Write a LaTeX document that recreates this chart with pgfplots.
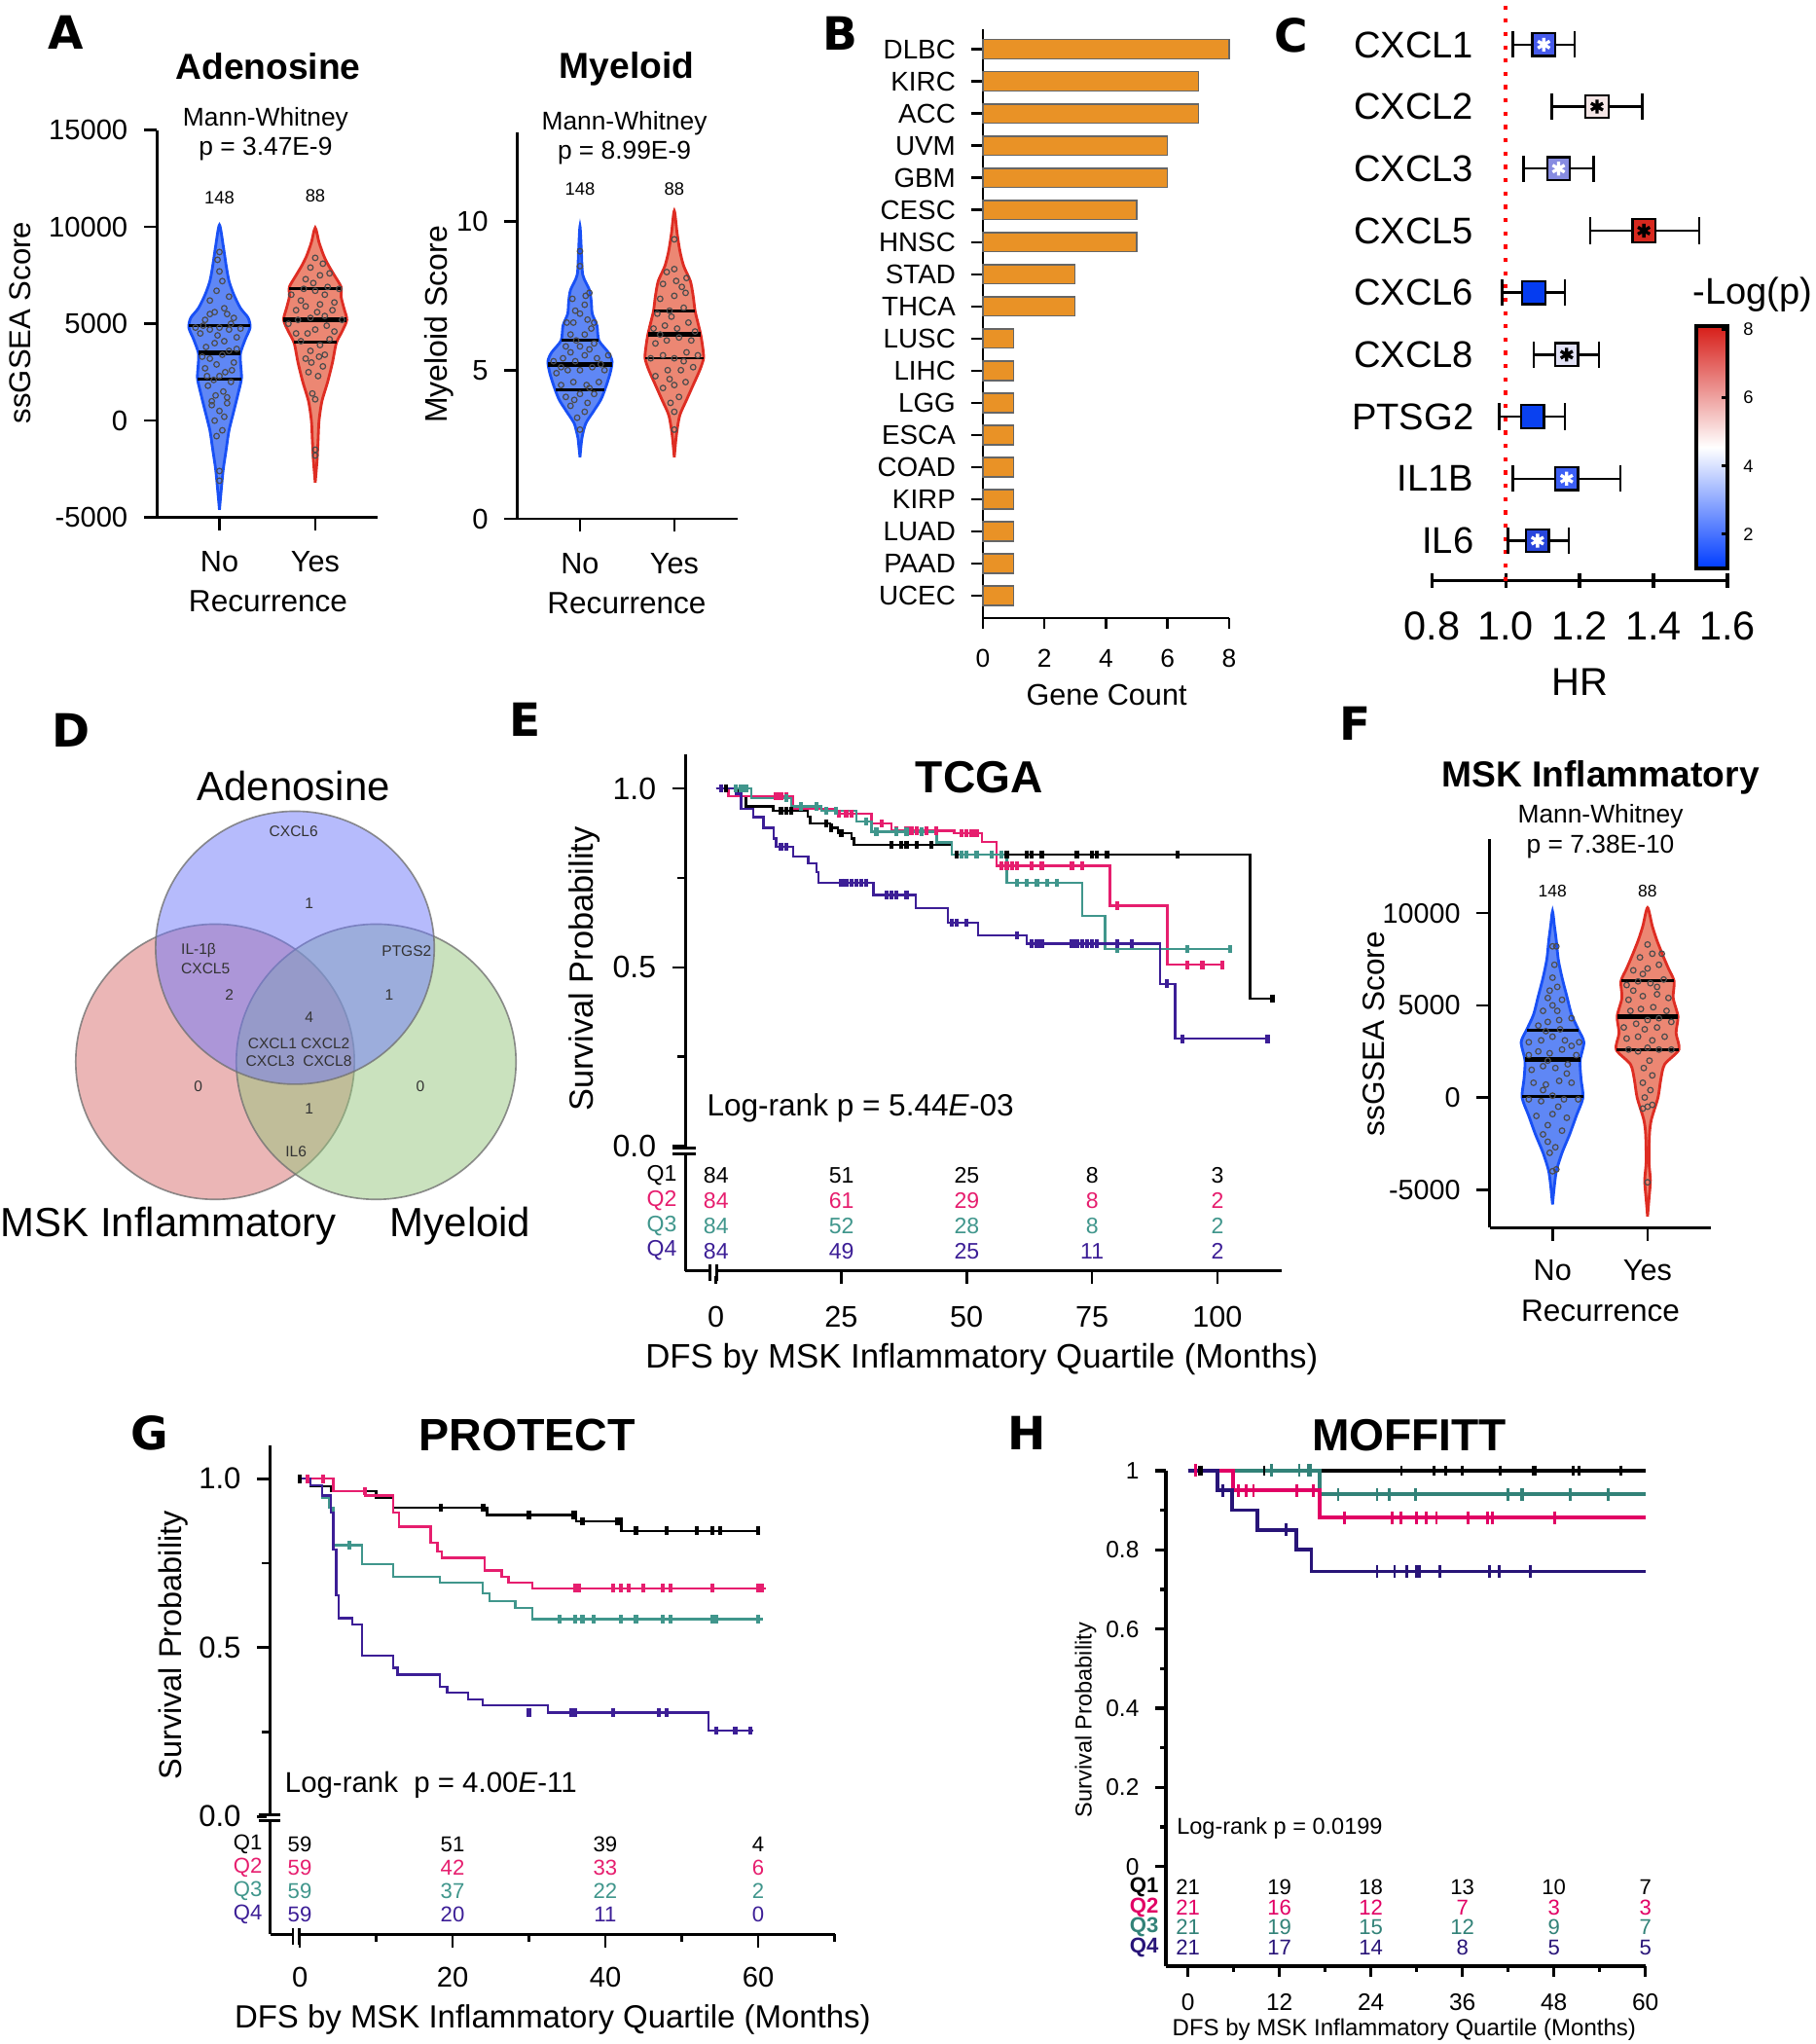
\documentclass[border=0pt]{standalone}
\usepackage{fontspec}
\setmainfont{Liberation Sans}
\newfontfamily\lf{DejaVu Sans}
\usepackage{pgfplots}
\pgfplotsset{compat=1.18}

\definecolor{vbf}{RGB}{95,135,245}
\definecolor{vbe}{RGB}{25,80,245}
\definecolor{vrf}{RGB}{236,135,115}
\definecolor{vre}{RGB}{222,45,35}
\definecolor{bor}{RGB}{233,146,38}
\definecolor{qb}{RGB}{230,30,110}
\definecolor{qc}{RGB}{64,150,140}
\definecolor{qd}{RGB}{60,30,150}
\definecolor{hb}{RGB}{225,0,100}
\definecolor{hc}{RGB}{50,130,120}
\definecolor{hd}{RGB}{40,20,120}
\definecolor{vpink}{RGB}{215,110,110}
\definecolor{vgreen}{RGB}{150,198,125}
\definecolor{vblue}{RGB}{110,120,250}
\definecolor{cbblue}{RGB}{0,60,255}
\definecolor{cbred}{RGB}{215,30,25}
\definecolor{c1}{RGB}{70,90,235}
\definecolor{c2}{RGB}{245,230,230}
\definecolor{c3}{RGB}{135,140,225}
\definecolor{c5}{RGB}{215,40,30}
\definecolor{c6}{RGB}{5,60,240}
\definecolor{c8}{RGB}{225,225,245}
\definecolor{cp}{RGB}{10,65,240}
\definecolor{cb}{RGB}{60,95,245}
\definecolor{ci}{RGB}{40,70,220}

\newcommand\fs[1]{\fontsize{#1}{#1}\selectfont}

\pgfplotsset{
  gp/.style={scale only axis, anchor=south west, clip=false,
    axis lines=left, axis line style={-, line width=0.55pt},
    tick align=outside, tick style={black, line width=0.55pt}, major tick length=1mm,
    scaled y ticks=false, scaled x ticks=false,
    /pgf/number format/assume math mode=true, /pgf/number format/1000 sep={}},
  violin/.style={smooth, tension=0.45, line width=0.6pt},
  dots/.style={only marks, mark=o, mark size=0.6pt, mark options={draw=black!70, line width=0.25pt}},
  qline/.style={line width=0.6pt, black},
  med/.style={line width=1.0pt, black},
  km/.style={const plot, line width=0.5pt, mark=none},
  cens/.style={only marks, mark=|, mark size=0.9pt, mark options={line width=0.9pt}},
}

\begin{document}
\begin{tikzpicture}
\useasboundingbox (0,0) rectangle (13.93,-15.68);

% ---------------- A: Adenosine
\begin{axis}[gp, at={(1.204cm,-3.97cm)}, width=1.692cm, height=2.973cm,
  xmin=0.347, xmax=2.65, ymin=-5000, ymax=15000,
  xtick={1,2}, xticklabels={No,Yes}, ytick={-5000,0,5000,10000,15000},
  yticklabel style={font=\fs{6.2}}, xticklabel style={font=\fs{6.5}}, xticklabel shift=0.37mm]
\addplot[violin, fill=vbf, draw=vbe] coordinates {
 (1,-4600) (1.02,-3500) (1.04,-2500) (1.07,-1500) (1.1,-500) (1.15,500) (1.2,1500)
 (1.23,2200) (1.22,3000) (1.22,3500) (1.27,4200) (1.32,4800) (1.3,5300) (1.22,5800)
 (1.15,6500) (1.1,7200) (1.07,8000) (1.04,9000) (1,10100)
 (0.96,9000) (0.93,8000) (0.9,7200) (0.85,6500) (0.78,5800) (0.7,5300) (0.68,4800)
 (0.73,4200) (0.78,3500) (0.78,3000) (0.77,2200) (0.8,1500) (0.85,500) (0.9,-500)
 (0.93,-1500) (0.96,-2500) (0.98,-3500)} -- cycle;
\addplot[violin, fill=vrf, draw=vre] coordinates {
 (2,-3200) (2.02,-2000) (2.03,-1000) (2.04,0) (2.07,1000) (2.13,2000) (2.18,3000)
 (2.22,4000) (2.28,4600) (2.33,5200) (2.3,5800) (2.27,6400) (2.27,6900) (2.2,7500)
 (2.14,8000) (2.09,8500) (2.04,9200) (2,9950)
 (1.96,9200) (1.91,8500) (1.86,8000) (1.8,7500) (1.73,6900) (1.73,6400) (1.7,5800)
 (1.67,5200) (1.72,4600) (1.78,4000) (1.82,3000) (1.87,2000) (1.93,1000) (1.96,0)
 (1.97,-1000) (1.98,-2000)} -- cycle;
\addplot[dots] coordinates {
 (1,-3100) (1,-2600) (0.97,-800) (1.03,-500) (0.95,0) (1.05,200) (1,500) (0.92,800)
 (1.08,900) (0.96,1300) (1.04,1500) (0.88,1800) (1.12,2000) (0.94,2100) (1.0,2300)
 (1.06,2500) (0.85,2700) (0.97,2900) (1.15,3000) (0.9,3200) (1.03,3400) (1.1,3600)
 (0.86,3800) (0.95,4000) (1.05,4100) (1.18,4300) (0.8,4500) (0.9,4700) (1.0,4800)
 (1.1,4700) (1.22,4750) (0.75,4800) (0.85,5200) (1.15,5300) (0.95,5600) (1.05,5800)
 (0.9,6200) (1.1,6400) (0.97,6700) (1.03,7200) (1.0,7700) (0.98,8300) (1.0,8700)
 (0.92,1000) (1.08,1200) (0.87,2300) (1.13,2600) (0.82,3300) (1.18,3700) (0.98,4400)
 (1.12,5000) (0.83,4900) (1.08,5500) (0.9,5500)
 (2,-1800) (2,-1500) (2,1100) (1.97,1400) (2.03,2300) (1.93,2500) (2.08,2800)
 (1.9,3200) (2.1,3400) (1.95,3600) (2.05,3900) (1.85,4100) (2.15,4200) (1.92,4500)
 (2.0,4700) (2.12,4900) (1.72,5000) (1.82,5200) (1.95,5300) (2.1,5400) (2.28,5200)
 (1.8,5700) (1.9,5900) (2.05,6000) (2.2,6100) (1.75,6500) (1.88,6800) (2.0,6700)
 (2.13,6900) (2.25,6800) (1.9,7300) (2.05,7500) (2.15,7600) (1.95,7900) (2.08,8100)
 (2.0,8400) (1.96,3000) (2.04,3300) (1.8,4500) (2.2,4600) (2.02,5600) (2.18,5700)
 (1.85,6200) (2.1,6500) (1.98,7100)};
\addplot[qline] coordinates {(0.68,4900) (1.32,4900)};
\addplot[med] coordinates {(0.78,3500) (1.22,3500)};
\addplot[qline] coordinates {(0.77,2150) (1.23,2150)};
\addplot[qline] coordinates {(1.73,6800) (2.27,6800)};
\addplot[med] coordinates {(1.67,5200) (2.33,5200)};
\addplot[qline] coordinates {(1.78,4050) (2.22,4050)};
\end{axis}

% ---------------- A: Myeloid
\begin{axis}[gp, at={(3.97cm,-3.98cm)}, width=1.688cm, height=2.965cm,
  xmin=0.337, xmax=2.67, ymin=0, ymax=13,
  xtick={1,2}, xticklabels={No,Yes}, ytick={0,5,10},
  yticklabel style={font=\fs{6.2}}, xticklabel style={font=\fs{6.5}}, xticklabel shift=0.37mm]
\addplot[violin, fill=vbf, draw=vbe] coordinates {
 (1,2.07) (1.02,2.7) (1.06,3.2) (1.14,3.6) (1.22,4.0) (1.27,4.4) (1.32,4.9) (1.34,5.3)
 (1.3,5.6) (1.2,6.0) (1.18,6.5) (1.13,6.9) (1.12,7.3) (1.1,7.7) (1.03,8.2) (1.015,9.0) (1,9.84)
 (0.985,9.0) (0.97,8.2) (0.9,7.7) (0.88,7.3) (0.87,6.9) (0.82,6.5) (0.8,6.0) (0.7,5.6)
 (0.66,5.3) (0.68,4.9) (0.73,4.4) (0.78,4.0) (0.86,3.6) (0.94,3.2) (0.98,2.7)} -- cycle;
\addplot[violin, fill=vrf, draw=vre] coordinates {
 (2,2.07) (2.015,2.6) (2.03,3.0) (2.06,3.5) (2.13,4.0) (2.2,4.5) (2.27,5.0) (2.31,5.4)
 (2.3,5.8) (2.28,6.2) (2.25,6.6) (2.22,7.0) (2.2,7.5) (2.17,8.0) (2.1,8.5) (2.06,9.0)
 (2.03,9.6) (2,10.36)
 (1.97,9.6) (1.94,9.0) (1.9,8.5) (1.83,8.0) (1.8,7.5) (1.78,7.0) (1.75,6.6) (1.72,6.2)
 (1.7,5.8) (1.69,5.4) (1.73,5.0) (1.8,4.5) (1.87,4.0) (1.94,3.5) (1.97,3.0) (1.985,2.6)} -- cycle;
\addplot[dots] coordinates {
 (1,3.0) (0.97,3.4) (1.05,3.6) (0.9,3.8) (1.08,3.9) (0.85,4.1) (1,4.2) (1.15,4.2)
 (0.8,4.5) (0.93,4.6) (1.07,4.5) (1.2,4.6) (0.75,4.9) (0.87,5.0) (1.0,5.0) (1.13,5.1)
 (1.26,5.0) (0.72,5.3) (0.82,5.4) (0.95,5.3) (1.05,5.5) (1.18,5.4) (1.3,5.5) (0.85,5.8)
 (1.0,5.8) (1.15,5.9) (0.9,6.2) (1.05,6.2) (1.12,6.4) (0.86,6.6) (0.93,6.6) (1.08,6.7)
 (1.15,6.6) (0.95,7.0) (1.05,7.2) (0.92,7.4) (1.06,7.5) (1.1,7.6) (1,8.5) (1,9.0)
 (0.94,4.0) (1.1,4.4) (0.9,5.6) (1.22,5.2) (0.96,6.0) (1.0,6.9) (0.8,5.1) (1.1,5.7)
 (2,3.0) (2,3.6) (1.96,3.9) (2.05,4.1) (1.88,4.4) (2.0,4.5) (2.12,4.6) (1.8,4.8)
 (1.93,5.0) (2.07,5.0) (2.2,5.1) (1.75,5.4) (1.88,5.5) (2.0,5.4) (2.13,5.6) (2.25,5.5)
 (1.8,5.9) (1.92,6.0) (2.05,6.1) (2.18,6.0) (1.78,6.4) (1.9,6.5) (2.03,6.4) (2.15,6.6)
 (1.82,6.9) (1.95,7.0) (2.1,7.1) (1.85,7.4) (2.0,7.5) (2.12,7.6) (1.88,7.9) (2.02,8.0)
 (2.13,8.1) (2.0,8.4) (2.0,9.4) (1.95,4.7) (2.1,5.3) (1.85,6.2) (2.22,6.3) (1.97,6.8)
 (2.08,7.8) (1.92,8.3)};
\addplot[qline] coordinates {(0.8,6.0) (1.2,6.0)};
\addplot[med] coordinates {(0.66,5.2) (1.34,5.2)};
\addplot[qline] coordinates {(0.74,4.35) (1.26,4.35)};
\addplot[qline] coordinates {(1.78,7.0) (2.22,7.0)};
\addplot[med] coordinates {(1.72,6.2) (2.28,6.2)};
\addplot[qline] coordinates {(1.69,5.4) (2.31,5.4)};
\end{axis}

% ---------------- B: bars
\begin{axis}[gp, xbar, at={(7.54cm,-4.74cm)}, width=1.89cm, height=4.517cm,
  xmin=0, xmax=8, ymin=-0.69, ymax=17.63, bar width=0.6,
  ytick={0,...,17}, yticklabels={UCEC,PAAD,LUAD,KIRP,COAD,ESCA,LGG,LIHC,LUSC,THCA,STAD,HNSC,CESC,GBM,UVM,ACC,KIRC,DLBC},
  xtick={0,2,4,6,8}, major tick length=0.85mm,
  yticklabel style={font=\fs{5.9}}, xticklabel style={font=\fs{5.6}}, xticklabel shift=0.35mm]
\addplot[fill=bor, draw=black!60, line width=0.3pt] coordinates {
 (1,0) (1,1) (1,2) (1,3) (1,4) (1,5) (1,6) (1,7) (1,8) (3,9) (3,10) (5,11) (5,12)
 (6,13) (6,14) (7,15) (7,16) (8,17)};
\end{axis}

% ---------------- C: forest
\begin{axis}[gp, at={(10.986cm,-4.456cm)}, width=2.266cm, height=4.456cm,
  xmin=0.8, xmax=1.6, ymin=-0.648, ymax=8.72,
  axis x line=bottom, axis y line=none, axis line style={-, line width=0.7pt},
  xtick={0.8,1.0,1.2,1.4,1.6}, major tick length=1.1mm, tick style={line width=0.7pt},
  xticklabel style={font=\fs{8.8}, /pgf/number format/.cd, fixed, fixed zerofill, precision=1},
  xticklabel shift=0.6mm]
\draw[red, dotted, line width=0.9pt] (axis cs:1,-0.648) -- (axis cs:1,8.72);
\addplot[draw=none, mark=none, error bars/.cd, x dir=both, x explicit, error mark=|,
  error bar style={line width=0.5pt, black}, error mark options={black, line width=0.5pt, mark size=2.9pt}]
 coordinates {
 (1.103,8) -= (0.084,0) += (0.083,0)
 (1.247,7) -= (0.122,0) += (0.123,0)
 (1.143,6) -= (0.095,0) += (0.095,0)
 (1.374,5) -= (0.146,0) += (0.150,0)
 (1.076,4) -= (0.086,0) += (0.084,0)
 (1.165,3) -= (0.089,0) += (0.087,0)
 (1.072,2) -= (0.090,0) += (0.088,0)
 (1.165,1) -= (0.146,0) += (0.146,0)
 (1.086,0) -= (0.080,0) += (0.085,0)};
\addplot[only marks, mark=square*, mark size=2.5pt, mark options={draw=black, line width=0.5pt, fill=c1}] coordinates {(1.103,8)};
\addplot[only marks, mark=square*, mark size=2.5pt, mark options={draw=black, line width=0.5pt, fill=c2}] coordinates {(1.247,7)};
\addplot[only marks, mark=square*, mark size=2.5pt, mark options={draw=black, line width=0.5pt, fill=c3}] coordinates {(1.143,6)};
\addplot[only marks, mark=square*, mark size=2.5pt, mark options={draw=black, line width=0.5pt, fill=c5}] coordinates {(1.374,5)};
\addplot[only marks, mark=square*, mark size=2.5pt, mark options={draw=black, line width=0.5pt, fill=c6}] coordinates {(1.076,4)};
\addplot[only marks, mark=square*, mark size=2.5pt, mark options={draw=black, line width=0.5pt, fill=c8}] coordinates {(1.165,3)};
\addplot[only marks, mark=square*, mark size=2.5pt, mark options={draw=black, line width=0.5pt, fill=cp}] coordinates {(1.072,2)};
\addplot[only marks, mark=square*, mark size=2.5pt, mark options={draw=black, line width=0.5pt, fill=cb}] coordinates {(1.165,1)};
\addplot[only marks, mark=square*, mark size=2.5pt, mark options={draw=black, line width=0.5pt, fill=ci}] coordinates {(1.086,0)};
\addplot[only marks, mark=asterisk, mark size=1.5pt, mark options={white, line width=0.7pt}] coordinates {(1.103,8) (1.143,6) (1.165,1) (1.086,0)};
\addplot[only marks, mark=asterisk, mark size=1.5pt, mark options={black, line width=0.7pt}] coordinates {(1.247,7) (1.374,5) (1.165,3)};
\end{axis}

% colour bar
\begin{axis}[scale only axis, anchor=south west, at={(13.015cm,-4.36cm)}, width=0.237cm, height=1.858cm,
  xmin=0, xmax=1, ymin=1, ymax=8.1, xtick=\empty, ytick={2,4,6,8},
  ytick pos=right, yticklabel pos=right, tick align=inside, major tick length=0.45mm,
  axis line style={line width=0.9pt}, tick style={line width=0.6pt, black}, axis on top,
  yticklabel style={font=\fs{3.9}}, /pgf/number format/assume math mode=true]
\addplot[draw=none, top color=cbred, bottom color=cbblue, middle color=white] coordinates {(0,1) (1,1) (1,8.1) (0,8.1)} -- cycle;
\end{axis}

% ---------------- D: Venn
\begin{axis}[scale only axis, anchor=south west, at={(0cm,-9.6cm)}, width=4.2cm, height=4.2cm,
  xmin=0, xmax=420, ymin=-960, ymax=-540, hide axis, clip=false]
\filldraw[fill=vpink, fill opacity=0.5, draw=black!55, draw opacity=0.8, line width=0.35pt] (axis cs:165,-814.5) ellipse [x radius=1.069cm, y radius=1.056cm];
\filldraw[fill=vgreen, fill opacity=0.5, draw=black!55, draw opacity=0.8, line width=0.35pt] (axis cs:288.6,-814.5) ellipse [x radius=1.073cm, y radius=1.056cm];
\filldraw[fill=vblue, fill opacity=0.5, draw=black!55, draw opacity=0.8, line width=0.35pt] (axis cs:226.3,-727) ellipse [x radius=1.069cm, y radius=1.047cm];
\end{axis}

% ---------------- E: TCGA
\begin{axis}[gp, at={(5.258cm,-9.748cm)}, width=4.578cm, height=3.965cm,
  xmin=-6.1, xmax=112.9, ymin=-0.3485, ymax=1.097,
  xtick={0,25,50,75,100}, ytick={0,0.5,1}, minor ytick={0.25,0.75}, minor tick length=0.6mm,
  yticklabel style={font=\fs{6.8}, /pgf/number format/.cd, fixed, fixed zerofill, precision=1},
  xticklabel style={font=\fs{6.5}}, xticklabel shift=0.5mm]
\addplot[km, black] coordinates {(0,1) (4.5,0.979) (6,0.95) (11.4,0.9375) (18.3,0.922) (18.8,0.902) (22.8,0.89) (24.3,0.875) (27,0.86) (27.5,0.843) (47,0.816) (106.5,0.413) (111,0.413)};
\addplot[km, qb] coordinates {(0,1) (2.5,0.979) (15.4,0.943) (24,0.93) (31,0.902) (35,0.882) (47.5,0.875) (53,0.85) (56,0.784) (78.6,0.672) (90,0.507) (101,0.507)};
\addplot[km, qc] coordinates {(0,1) (7,0.973) (15,0.95) (21,0.9375) (28,0.908) (31,0.879) (44,0.849) (47,0.816) (58,0.737) (73,0.643) (77.6,0.551) (102.5,0.551)};
\addplot[km, qd] coordinates {(0,1) (4,0.985) (5,0.943) (7.5,0.92) (9.5,0.89) (11.5,0.86) (12,0.837) (15.4,0.81) (18.4,0.79) (20,0.766) (20.4,0.737) (31.4,0.702) (39.8,0.666) (46.3,0.625) (52.3,0.59) (62,0.566) (88.6,0.454) (91.6,0.30) (110,0.30)};
\addplot[cens, black] coordinates {(1,1) (2,1) (13,0.9375) (14,0.9375) (15,0.9375) (22,0.902) (23,0.89) (25,0.875) (35,0.843) (37,0.843) (38,0.843) (40,0.843) (43,0.843) (48,0.816) (49,0.816) (50,0.816) (58,0.816) (62,0.816) (63,0.816) (65,0.816) (72,0.816) (75,0.816) (76,0.816) (78,0.816) (92,0.816) (111,0.413)};
\addplot[cens, qb] coordinates {(1,1) (12,0.979) (13,0.979) (14,0.979) (24.5,0.93) (26,0.93) (27,0.93) (33,0.902) (36,0.882) (38,0.882) (39,0.882) (40,0.882) (42,0.882) (44,0.882) (49,0.875) (50,0.875) (51,0.875) (52,0.875) (57,0.784) (58,0.784) (59,0.784) (60,0.784) (63,0.784) (65,0.784) (71,0.784) (73,0.784) (80,0.672) (94,0.507) (97,0.507) (101,0.507)};
\addplot[cens, qc] coordinates {(4,1) (5,1) (6,1) (14,0.973) (17,0.95) (20,0.95) (22,0.9375) (24,0.9375) (30,0.908) (32,0.879) (36,0.879) (38,0.879) (41,0.879) (49,0.816) (50,0.816) (52,0.816) (55,0.816) (57,0.816) (60,0.737) (62,0.737) (64,0.737) (66,0.737) (68,0.737) (80,0.551) (94,0.551) (102.5,0.551)};
\addplot[cens, qd] coordinates {(1,1) (13,0.837) (14,0.837) (25,0.737) (26,0.737) (27,0.737) (28,0.737) (29,0.737) (30,0.737) (34,0.702) (35,0.702) (36,0.702) (38,0.702) (47,0.625) (48,0.625) (50,0.625) (60,0.59) (63,0.566) (64,0.566) (65,0.566) (71,0.566) (72,0.566) (73,0.566) (74,0.566) (75,0.566) (76,0.566) (80,0.566) (83,0.566) (90,0.454) (93,0.30) (110,0.30)};
\fill[white] (axis cs:-7.0,-0.006) rectangle (axis cs:-5.2,-0.021);
\draw[line width=0.55pt] (axis cs:-8.6,-0.006) -- (axis cs:-4.0,-0.006) (axis cs:-8.6,-0.021) -- (axis cs:-4.0,-0.021);
\fill[white] (axis cs:-1.2,-0.335) rectangle (axis cs:0.2,-0.362);
\draw[line width=0.55pt] (axis cs:-1.2,-0.331) -- (axis cs:-1.2,-0.378) (axis cs:0.2,-0.331) -- (axis cs:0.2,-0.378);
\end{axis}

% ---------------- F: MSK Inflammatory
\begin{axis}[gp, at={(11.428cm,-9.418cm)}, width=1.697cm, height=2.98cm,
  xmin=0.337, xmax=2.665, ymin=-7065, ymax=14010,
  xtick={1,2}, xticklabels={No,Yes}, ytick={-5000,0,5000,10000},
  yticklabel style={font=\fs{6.1}}, xticklabel style={font=\fs{6.5}}, xticklabel shift=0.2mm]
\addplot[violin, fill=vbf, draw=vbe] coordinates {
 (1,-5800) (1.015,-5000) (1.04,-4000) (1.1,-3000) (1.18,-2000) (1.25,-1000) (1.32,0)
 (1.3,1000) (1.29,2000) (1.33,3000) (1.27,3700) (1.2,4500) (1.15,5500) (1.1,6500)
 (1.06,7500) (1.04,8500) (1.02,9300) (1,10100)
 (0.98,9300) (0.96,8500) (0.94,7500) (0.9,6500) (0.85,5500) (0.8,4500) (0.73,3700)
 (0.67,3000) (0.71,2000) (0.7,1000) (0.68,0) (0.75,-1000) (0.82,-2000) (0.9,-3000)
 (0.96,-4000) (0.985,-5000)} -- cycle;
\addplot[violin, fill=vrf, draw=vre] coordinates {
 (2,-6450) (2.015,-5500) (2.03,-4500) (2.015,-3500) (2.02,-2000) (2.04,-1200) (2.11,0)
 (2.14,1000) (2.18,1800) (2.33,2600) (2.3,3500) (2.32,4400) (2.27,5400) (2.28,6300)
 (2.22,7000) (2.17,7600) (2.1,8500) (2.05,9300) (2,10300)
 (1.95,9300) (1.9,8500) (1.83,7600) (1.78,7000) (1.72,6300) (1.73,5400) (1.68,4400)
 (1.7,3500) (1.67,2600) (1.82,1800) (1.86,1000) (1.89,0) (1.96,-1200) (1.98,-2000)
 (1.985,-3500) (1.97,-4500) (1.985,-5500)} -- cycle;
\addplot[dots] coordinates {
 (1,-4000) (1.04,-3900) (0.97,-3000) (1.03,-2700) (0.9,-2000) (1.1,-1800) (0.95,-1500)
 (0.83,-1000) (1.0,-900) (1.15,-1100) (0.75,-100) (0.88,-200) (1.0,100) (1.12,-100)
 (1.27,-100) (0.8,800) (0.93,700) (1.07,900) (1.2,800) (0.78,1500) (0.9,1700) (1.03,1600)
 (1.16,1800) (0.75,2300) (0.85,2500) (0.97,2400) (1.1,2600) (1.25,2300) (0.75,3000)
 (0.88,3100) (1.0,3300) (1.13,3100) (1.28,3000) (0.85,3900) (0.95,4100) (1.07,4200)
 (1.2,4300) (0.9,4700) (1.0,5000) (1.1,5300) (0.97,5800) (1.05,6000) (1.0,6500)
 (1.02,7200) (1.0,8200) (1.04,8200) (0.95,-2400) (1.06,-500) (0.9,400) (1.15,1300)
 (0.95,2000) (1.2,2800) (0.93,3600) (1.08,3700) (1.05,4700) (0.95,5400)
 (2,-4600) (2,-500) (1.95,-600) (2.05,-400) (1.97,0) (2.03,400) (1.95,800) (2.05,1200)
 (1.96,1600) (2.02,2000) (1.8,2600) (1.9,2500) (2.0,2700) (2.12,2600) (2.25,2600)
 (1.78,3200) (1.9,3300) (2.05,3100) (2.18,3300) (1.75,3800) (1.88,4000) (2.0,4200)
 (2.12,4300) (2.25,4100) (1.82,4700) (1.93,4800) (2.06,4900) (2.2,4700) (1.8,5300)
 (1.95,5500) (2.1,5600) (2.22,5400) (1.78,6100) (1.9,6300) (2.03,6200) (2.17,6400)
 (1.85,6900) (2.0,7000) (2.12,7200) (1.92,7600) (2.05,7800) (2.15,7800) (2.0,8300)
 (1.97,3700) (2.1,3800) (1.85,5800) (2.1,6000) (1.95,6700)};
\addplot[qline] coordinates {(0.73,3650) (1.27,3650)};
\addplot[med] coordinates {(0.71,2050) (1.29,2050)};
\addplot[qline] coordinates {(0.68,50) (1.32,50)};
\addplot[qline] coordinates {(1.72,6330) (2.28,6330)};
\addplot[med] coordinates {(1.68,4390) (2.32,4390)};
\addplot[qline] coordinates {(1.67,2580) (2.33,2580)};
\end{axis}

% ---------------- G: PROTECT
\begin{axis}[gp, at={(2.072cm,-14.838cm)}, width=4.331cm, height=3.748cm,
  xmin=-3.9, xmax=70, ymin=-0.3486, ymax=1.098,
  xtick={0,20,40,60}, minor xtick={10,30,50,70}, ytick={0,0.5,1}, minor ytick={0.25,0.75},
  minor tick length=0.6mm,
  yticklabel style={font=\fs{6.6}, /pgf/number format/.cd, fixed, fixed zerofill, precision=1},
  xticklabel style={font=\fs{6.2}}, xticklabel shift=0.3mm]
\addplot[km, black] coordinates {(0,1) (1.4,0.978) (4.1,0.963) (10,0.945) (12.2,0.914) (24.5,0.893) (36.2,0.874) (42.1,0.846) (60.3,0.846)};
\addplot[km, qb] coordinates {(0,1) (4.4,0.963) (8.5,0.95) (12.2,0.9) (13,0.858) (17.1,0.81) (18,0.785) (18.6,0.766) (24.2,0.729) (26.4,0.71) (27.3,0.692) (30.4,0.676) (61,0.676)};
\addplot[km, qc] coordinates {(0,1) (1.4,0.98) (2.9,0.945) (3.8,0.914) (4.4,0.803) (8.1,0.748) (12.2,0.71) (18.3,0.692) (23.9,0.661) (24.8,0.637) (28.2,0.618) (30.4,0.584) (60.6,0.584)};
\addplot[km, qd] coordinates {(0,1) (1.4,0.98) (2.9,0.95) (4.1,0.9) (4.4,0.79) (4.75,0.655) (5.1,0.587) (6.9,0.569) (8.1,0.477) (12.2,0.44) (12.8,0.42) (18.3,0.384) (19.3,0.366) (22,0.347) (23.9,0.329) (32.5,0.308) (53.5,0.255) (59.4,0.255)};
\addplot[cens, black] coordinates {(0,1) (18.5,0.914) (24,0.914) (30,0.893) (35.8,0.893) (36,0.893) (37,0.874) (41.5,0.874) (42,0.874) (44,0.846) (48,0.846) (52,0.846) (54,0.846) (55,0.846) (60,0.846)};
\addplot[cens, qb] coordinates {(1,1) (3,1) (8.5,0.963) (36,0.676) (36.5,0.676) (41,0.676) (42,0.676) (43,0.676) (45,0.676) (47.5,0.676) (48.5,0.676) (54,0.676) (60,0.676) (60.5,0.676)};
\addplot[cens, qc] coordinates {(6.5,0.803) (34,0.584) (36,0.584) (37,0.584) (38.5,0.584) (42,0.584) (44,0.584) (47.5,0.584) (48.5,0.584) (54,0.584) (54.5,0.584) (60,0.584)};
\addplot[cens, qd] coordinates {(30,0.308) (35.5,0.308) (36,0.308) (41,0.308) (47,0.308) (48,0.308) (54.5,0.255) (57,0.255) (59,0.255)};
\fill[white] (axis cs:-4.4,0.003) rectangle (axis cs:-3.4,-0.010);
\draw[line width=0.55pt] (axis cs:-5.4,0.005) -- (axis cs:-2.5,0.005) (axis cs:-5.4,-0.012) -- (axis cs:-2.5,-0.012);
\fill[white] (axis cs:-0.9,-0.335) rectangle (axis cs:-0.07,-0.362);
\draw[line width=0.55pt] (axis cs:-0.9,-0.33) -- (axis cs:-0.9,-0.38) (axis cs:-0.07,-0.33) -- (axis cs:-0.07,-0.38);
\end{axis}

% ---------------- H: MOFFITT
\begin{axis}[gp, at={(8.943cm,-15.084cm)}, width=3.681cm, height=3.803cm,
  axis line style={-, line width=0.8pt}, tick style={black, line width=0.7pt},
  xmin=-2.92, xmax=60, ymin=-0.252, ymax=1.0,
  xtick={0,12,24,36,48,60}, minor xtick={6,18,30,42,54},
  ytick={0,0.2,0.4,0.6,0.8,1}, minor ytick={0.1,0.3,0.5,0.7,0.9},
  major tick length=0.8mm, minor tick length=0.4mm,
  yticklabel style={font=\fs{5.2}}, xticklabel style={font=\fs{5.2}}, xticklabel shift=0.1mm]
\addplot[km, black, line width=0.8pt] coordinates {(0,1) (60,1)};
\addplot[km, hc, line width=0.8pt] coordinates {(0,1) (17.3,0.94) (60,0.94)};
\addplot[km, hb, line width=0.8pt] coordinates {(0,1) (5.9,0.95) (17.3,0.881) (60,0.881)};
\addplot[km, hd, line width=0.8pt] coordinates {(0,1) (3.9,0.95) (5.8,0.9) (9.1,0.85) (14.2,0.8) (16.2,0.745) (60,0.745)};
\addplot[cens, black, mark size=1.1pt, mark options={line width=0.6pt}] coordinates {(1.5,1) (1.8,1) (10,1) (11,1) (14.6,1) (15.8,1) (28,1) (32.3,1) (33.8,1) (36,1) (40.9,1) (45.3,1) (45.6,1) (50.5,1) (51.3,1) (56.8,1)};
\addplot[cens, hb, mark size=1.4pt, mark options={line width=0.6pt}] coordinates {(1.0,1) (6.6,0.95) (7.6,0.95) (8.6,0.95) (14.3,0.95) (16.5,0.95) (20.5,0.881) (26.8,0.881) (27.9,0.881) (30,0.881) (31.3,0.881) (32.6,0.881) (36.7,0.881) (39.3,0.881) (39.9,0.881) (48.1,0.881)};
\addplot[cens, hc, mark size=1.4pt, mark options={line width=0.6pt}] coordinates {(11,1) (14.6,1) (15.8,1) (16.1,1) (19.7,0.94) (24.8,0.94) (26.4,0.94) (29.9,0.94) (42,0.94) (43.7,0.94) (43.9,0.94) (50.1,0.94) (55.1,0.94)};
\addplot[cens, hd, mark size=1.4pt, mark options={line width=0.6pt}] coordinates {(4.6,0.95) (12.9,0.85) (24.8,0.745) (27.1,0.745) (28.7,0.745) (30,0.745) (30.4,0.745) (33,0.745) (39.6,0.745) (40.8,0.745) (44.9,0.745)};
\end{axis}

% ================= text
\tikzset{every node/.style={inner sep=0pt}}
% panel letters
\foreach \l/\x/\y in {A/0.507/0.248, B/6.444/0.257, C/9.904/0.274, D/0.547/5.603, E/4.026/5.518, F/10.40/5.55, G/1.149/10.994, H/7.88/10.994}
  \node[font=\lf\bfseries\fs{10}] at (\x,-\y) {\l};

% A
\node[font=\bfseries\fs{7.9}] at (2.057,-0.51) {Adenosine};
\node[font=\fs{5.6}] at (2.038,-0.913) {Mann-Whitney};
\node[font=\fs{5.6}] at (2.038,-1.145) {p = 3.47E-9};
\node[font=\fs{3.9}] at (1.684,-1.517) {148};
\node[font=\fs{3.9}] at (2.419,-1.50) {88};
\node[font=\fs{6.6}, rotate=90] at (0.152,-2.476) {ssGSEA Score};
\node[font=\fs{6.7}] at (2.057,-4.61) {Recurrence};
\node[font=\bfseries\fs{7.9}] at (4.808,-0.526) {Myeloid};
\node[font=\fs{5.6}] at (4.79,-0.944) {Mann-Whitney};
\node[font=\fs{5.6}] at (4.79,-1.176) {p = 8.99E-9};
\node[font=\fs{3.9}] at (4.45,-1.448) {148};
\node[font=\fs{3.9}] at (5.174,-1.45) {88};
\node[font=\fs{6.8}, rotate=90] at (3.37,-2.49) {Myeloid Score};
\node[font=\fs{6.7}] at (4.808,-4.627) {Recurrence};

% B
\node[font=\fs{6.5}] at (8.49,-5.33) {Gene Count};

% C
\foreach \g [count=\i from 0] in {CXCL1,CXCL2,CXCL3,CXCL5,CXCL6,CXCL8,PTSG2,IL1B,IL6}
  \node[font=\fs{8.1}, anchor=east] at (11.313,{-(0.343+0.4756*\i)}) {\g};
\node[font=\fs{8.1}] at (13.447,-2.262) {-Log(p)};
\node[font=\fs{8.5}] at (12.12,-5.23) {HR};

% D
\node[font=\fs{8.9}] at (2.253,-6.03) {Adenosine};
\node[font=\fs{8.9}] at (1.293,-9.402) {MSK Inflammatory};
\node[font=\fs{8.9}] at (3.532,-9.402) {Myeloid};
\begin{scope}[every node/.style={font=\fs{3.3}, text=black!80}]
\node at (2.253,-6.375) {CXCL6};
\node at (2.373,-6.932) {1};
\node[anchor=west] at (1.266,-7.294) {IL-1β};
\node[anchor=west] at (1.266,-7.431) {CXCL5};
\node at (1.76,-7.631) {2};
\node at (3.12,-7.294) {PTGS2};
\node at (2.986,-7.631) {1};
\node at (2.373,-7.803) {4};
\node at (2.293,-8.003) {CXCL1 CXCL2};
\node at (2.293,-8.14) {CXCL3\ \ CXCL8};
\node at (1.52,-8.331) {0};
\node at (3.226,-8.331) {0};
\node at (2.373,-8.508) {1};
\node at (2.271,-8.831) {IL6};
\end{scope}

% E
\node[font=\bfseries\fs{9.8}] at (7.513,-5.961) {TCGA};
\node[font=\fs{7.3}, rotate=90] at (4.485,-7.434) {Survival Probability};
\node[font=\fs{6.7}, anchor=west] at (5.418,-8.502) {Log-rank p = 5.44\textit{E}-03};
\node[font=\fs{7.4}] at (7.532,-10.428) {DFS by MSK Inflammatory Quartile (Months)};
\foreach \c/\r/\a/\b/\cc/\d/\e [count=\i from 0] in {black/Q1/84/51/25/8/3, qb/Q2/84/61/29/8/2, qc/Q3/84/52/28/8/2, qd/Q4/84/49/25/11/2} {
  \pgfmathsetmacro\yy{-(9.02+0.1918*\i)}
  \node[font=\fs{4.9}, text=\c, anchor=east] at (5.20,\yy) {\r};
  \node[font=\fs{4.9}, text=\c] at (5.494,\yy) {\a};
  \node[font=\fs{4.9}, text=\c] at (6.456,\yy) {\b};
  \node[font=\fs{4.9}, text=\c] at (7.417,\yy) {\cc};
  \node[font=\fs{4.9}, text=\c] at (8.379,\yy) {\d};
  \node[font=\fs{4.9}, text=\c] at (9.34,\yy) {\e};
}

% F
\node[font=\bfseries\fs{7.9}] at (12.279,-5.966) {MSK Inflammatory};
\node[font=\fs{5.6}] at (12.279,-6.264) {Mann-Whitney};
\node[font=\fs{5.6}] at (12.279,-6.493) {p = 7.38E-10};
\node[font=\fs{3.7}] at (11.911,-6.834) {148};
\node[font=\fs{3.7}] at (12.64,-6.834) {88};
\node[font=\fs{6.7}, rotate=90] at (10.538,-7.931) {ssGSEA Score};
\node[font=\fs{6.7}] at (12.279,-10.055) {Recurrence};

% G
\node[font=\bfseries\fs{9.9}] at (4.044,-11.01) {PROTECT};
\node[font=\fs{6.9}, rotate=90] at (1.33,-12.62) {Survival Probability};
\node[font=\fs{6.25}, anchor=west] at (2.18,-13.69) {Log-rank\ \ p = 4.00\textit{E}-11};
\node[font=\fs{7.0}] at (4.24,-15.49) {DFS by MSK Inflammatory Quartile (Months)};
\foreach \c/\r/\a/\b/\cc/\d [count=\i from 0] in {black/Q1/59/51/39/4, qb/Q2/59/42/33/6, qc/Q3/59/37/22/2, qd/Q4/59/20/11/0} {
  \pgfmathsetmacro\yy{-(14.146+0.1807*\i)}
  \node[font=\fs{4.7}, text=\c, anchor=east] at (2.018,\yy) {\r};
  \node[font=\fs{4.7}, text=\c] at (2.30,\yy) {\a};
  \node[font=\fs{4.7}, text=\c] at (3.472,\yy) {\b};
  \node[font=\fs{4.7}, text=\c] at (4.644,\yy) {\cc};
  \node[font=\fs{4.7}, text=\c] at (5.816,\yy) {\d};
}

% H
\node[font=\bfseries\fs{9.8}] at (10.813,-11.01) {MOFFITT};
\node[font=\fs{5.0}, rotate=90] at (8.33,-13.195) {Survival Probability};
\node[font=\fs{5.0}, anchor=west] at (9.022,-14.025) {Log-rank p = 0.0199};
\node[font=\fs{5.1}] at (10.773,-15.572) {DFS by MSK Inflammatory Quartile (Months)};
\foreach \c/\r/\a/\b/\cc/\d/\e/\f [count=\i from 0] in {black/Q1/21/19/18/13/10/7, hb/Q2/21/16/12/7/3/3, hc/Q3/21/19/15/12/9/7, hd/Q4/21/17/14/8/5/5} {
  \pgfmathsetmacro\yy{-(14.477+0.1543*\i)}
  \node[font=\bfseries\fs{4.7}, text=\c, anchor=east] at (8.895,\yy) {\r};
  \node[font=\fs{4.7}, text=\c] at (9.114,\yy) {\a};
  \node[font=\fs{4.7}, text=\c] at (9.816,\yy) {\b};
  \node[font=\fs{4.7}, text=\c] at (10.518,\yy) {\cc};
  \node[font=\fs{4.7}, text=\c] at (11.22,\yy) {\d};
  \node[font=\fs{4.7}, text=\c] at (11.922,\yy) {\e};
  \node[font=\fs{4.7}, text=\c] at (12.624,\yy) {\f};
}
\end{tikzpicture}
\end{document}
